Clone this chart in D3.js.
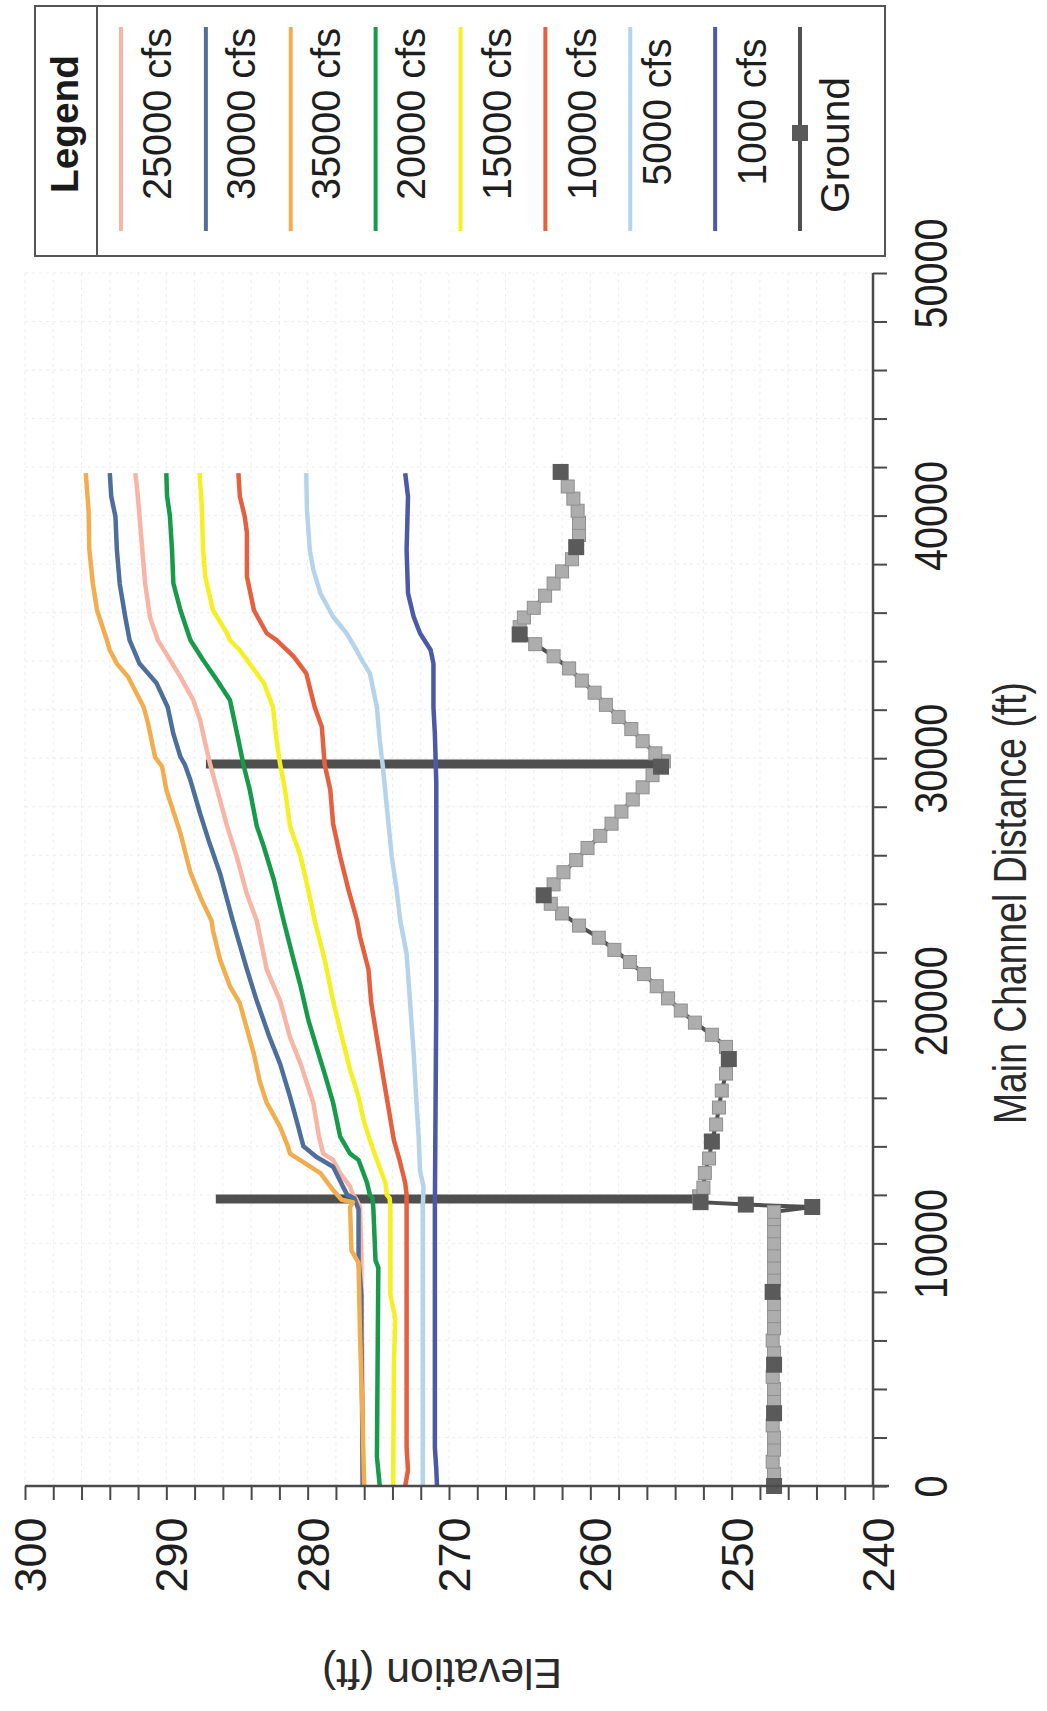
<!DOCTYPE html>
<html>
<head>
<meta charset="utf-8">
<script src="https://cdn.jsdelivr.net/npm/d3@7"></script>
<style>
  html, body { margin: 0; padding: 0; background: #ffffff; }
  svg { display: block; }
</style>
</head>
<body>
<svg id="chart" width="1047" height="1711"></svg>
<script>
// Water surface profiles: [main channel distance (ft), elevation (ft)]
const wse25000 = [[0,276.15],[3000,276.1],[8500,276.2],[9600,276.2],[11500,276.3],[11860,276.6],[12000,276.8],[12340,277.0],[12900,277.7],[13440,278.2],[13700,278.9],[14400,279.2],[15800,279.6],[17400,280.5],[18500,281.25],[20000,281.95],[21300,282.9],[23300,283.6],[24400,284.3],[25900,285.0],[27200,285.7],[28700,286.4],[29750,286.9],[30750,287.3],[31550,287.6],[32400,288.1],[33350,289.0],[34300,290.0],[34870,290.6],[35800,291.15],[37200,291.5],[38600,291.7],[40000,291.9],[41300,292.1],[41750,292.2]];
const wse30000 = [[0,276.1],[6300,276.2],[7900,276.2],[9300,276.4],[11400,276.4],[11860,276.7],[12000,277.2],[12340,277.5],[13160,278.2],[13570,279.4],[14000,280.3],[15100,280.8],[16050,281.25],[17400,281.95],[18500,282.7],[20000,283.6],[21300,284.3],[22500,284.9],[23300,285.3],[25250,286.2],[26600,287.0],[27700,287.6],[29100,288.3],[29750,288.7],[30050,289.0],[31000,289.5],[32100,289.9],[33100,290.7],[33900,291.9],[34450,292.3],[34870,292.6],[35800,292.9],[37200,293.3],[38600,293.5],[39950,293.6],[40800,293.9],[41750,294.0]];
const wse35000 = [[0,276.0],[3500,276.15],[6300,276.3],[9200,276.4],[9700,276.9],[11500,277.0],[11700,276.8],[11800,277.6],[12200,278.2],[12900,279.1],[13700,281.25],[14000,281.4],[14800,281.95],[15800,282.9],[16700,283.4],[17800,283.8],[19900,284.8],[20600,285.5],[21700,286.2],[22900,286.7],[23300,286.8],[24150,287.5],[25300,288.3],[26900,289.0],[28700,290.0],[29650,290.3],[30050,290.8],[31450,291.3],[32100,291.6],[33350,292.7],[33900,293.5],[34450,294.0],[34850,294.2],[36100,294.9],[37200,295.2],[38600,295.45],[40200,295.5],[41750,295.7]];
const wse20000 = [[0,274.9],[1200,275.1],[9000,275.0],[9300,275.2],[11400,275.35],[11860,275.4],[12000,275.6],[12500,275.8],[13440,276.4],[13700,277.0],[14400,277.7],[15800,278.2],[17000,278.8],[17850,279.25],[19200,279.95],[20600,280.5],[21700,281.0],[23300,281.7],[25000,282.4],[26350,283.1],[27200,283.6],[28700,284.1],[29750,284.55],[30750,284.9],[31850,285.3],[32400,285.5],[33200,286.4],[34050,287.4],[34870,288.3],[35400,288.6],[36100,289.0],[37200,289.5],[38600,289.6],[40000,289.75],[40800,289.95],[41750,290.0]];
const wse15000 = [[0,273.95],[5000,273.9],[6900,273.8],[7900,274.15],[11500,274.15],[11860,274.2],[12000,274.4],[12500,274.5],[13440,275.1],[14260,275.6],[15100,276.05],[16050,276.4],[17150,277.0],[18800,277.7],[20000,278.2],[21700,278.8],[23300,279.5],[24550,279.95],[25950,280.5],[27200,281.25],[28700,281.6],[29750,281.95],[30750,282.2],[32100,282.45],[33100,283.1],[34050,284.3],[34450,284.8],[34870,285.5],[35150,285.7],[36100,286.7],[37500,287.25],[38600,287.4],[40500,287.5],[41750,287.65]];
const wse10000 = [[0,273.1],[650,272.9],[1600,273.0],[11500,273.0],[12000,273.0],[12500,273.1],[13440,273.5],[14260,273.9],[15650,274.3],[16850,274.65],[18100,275.0],[19900,275.5],[21300,275.7],[22650,276.3],[23300,276.5],[24550,277.1],[25950,277.7],[27300,278.2],[28700,278.4],[29750,278.8],[31300,279.0],[32100,279.5],[33500,280.1],[34200,281.0],[34870,282.2],[35150,282.9],[36100,283.8],[37500,284.3],[39300,284.3],[39950,284.45],[40800,284.8],[41750,284.9]];
const wse5000 = [[0,271.85],[11500,271.85],[12340,271.8],[13000,272.05],[14400,272.15],[15800,272.3],[17850,272.5],[19900,272.75],[21950,273.0],[23300,273.45],[24550,273.7],[25950,274.05],[28000,274.4],[29750,274.7],[30750,274.9],[32100,275.1],[33500,275.6],[34180,276.3],[34460,276.55],[35150,277.25],[35830,278.2],[36800,279.1],[37760,279.6],[38580,279.85],[40230,280.05],[41750,280.1]];
const wse1000 = [[0,270.85],[700,270.9],[1600,271.0],[11500,271.0],[20000,270.9],[29000,270.9],[31000,271.0],[32100,271.1],[33900,271.1],[34460,271.3],[35150,272.05],[35830,272.5],[36800,272.9],[38580,273.0],[40780,272.9],[41750,273.1]];

// Channel ground profile: [main channel distance (ft), elevation (ft)]
const ground = [[0,247.0],[500,247.0],[1000,247.1],[1500,247.0],[2000,247.0],[2500,247.1],[3000,247.0],[3500,247.0],[4000,247.0],[4500,247.1],[5000,247.0],[5500,247.0],[6000,247.1],[6500,247.0],[7000,247.0],[7500,247.0],[8000,247.1],[8500,247.0],[9000,247.0],[9500,247.0],[10000,247.0],[10500,247.0],[11000,247.0],[11300,247.0],[11500,244.3],[11600,249.0],[11700,252.2],[11940,252.3],[12300,252.0],[12900,251.9],[13500,251.6],[14200,251.4],[14900,251.1],[15600,250.9],[16300,250.7],[17000,250.4],[17600,250.2],[18100,250.4],[18600,251.4],[19100,252.6],[19600,253.6],[20100,254.5],[20600,255.3],[21100,256.2],[21600,257.2],[22100,258.3],[22600,259.4],[23100,260.8],[23600,262.0],[24000,262.8],[24350,263.3],[24800,262.6],[25300,261.9],[25800,261.0],[26300,260.2],[26800,259.3],[27300,258.5],[27800,257.8],[28300,257.0],[28800,256.3],[29300,255.6],[29650,255.0],[29870,254.8],[30200,255.4],[30700,256.3],[31200,257.1],[31700,258.0],[32200,258.9],[32700,259.7],[33200,260.6],[33700,261.5],[34200,262.6],[34700,263.9],[35100,265.0],[35400,265.0],[35800,264.7],[36200,264.0],[36700,263.2],[37200,262.6],[37700,262.0],[38200,261.3],[38700,261.0],[39200,260.8],[39700,260.8],[40200,260.9],[40700,261.2],[41200,261.6],[41800,262.1]];
// Bridge / weir crossings: [distance, invert elevation, deck elevation]
const crossings = [[11830, 252.2, 286.5], [29760, 254.9, 287.2]];
// Surveyed cross sections drawn with a heavier marker
const sectionDist = [0, 2800, 5200, 8000, 11500, 11600, 11700, 14200, 17600, 24350, 29650, 35100, 38700, 41800];

const elevTicks = [300, 290, 280, 270, 260, 250, 240];
const distTicks = [0, 10000, 20000, 30000, 40000, 50000];

const legendLabels = ["25000 cfs","30000 cfs","35000 cfs","20000 cfs","15000 cfs","10000 cfs","5000 cfs","1000 cfs"];
const legendColors = ["#f6b5a5","#4e6f9c","#f2ae4e","#179b4b","#f4f024","#e5603f","#b5d4ec","#4b5aa6"];
const profiles = [wse25000, wse30000, wse35000, wse20000, wse15000, wse10000, wse5000, wse1000];

const svg = d3.select("#chart");
const FONT = "'Liberation Sans', Arial, Helvetica, sans-serif";
const NARROW = "'Liberation Sans Narrow', 'Arial Narrow', 'Liberation Sans', Arial, sans-serif";

// Elevation runs across the page, distance runs up the page
const xE = d3.scaleLinear().domain([300, 240]).range([25, 873]);
const yD = d3.scaleLinear().domain([0, 50000]).range([1486, 273]);

// faint grid
const grid = svg.append("g").attr("stroke", "#dcdcdc").attr("stroke-width", 1)
  .attr("stroke-dasharray", "3,4").attr("opacity", 0.5);
grid.selectAll("line.v").data(d3.range(242, 301, 2)).join("line")
  .attr("x1", d => xE(d)).attr("x2", d => xE(d)).attr("y1", yD(50000)).attr("y2", yD(0));
grid.selectAll("line.h").data(d3.range(2000, 50001, 2000)).join("line")
  .attr("x1", xE(300)).attr("x2", xE(240)).attr("y1", d => yD(d)).attr("y2", d => yD(d));

const line = d3.line().x(p => xE(p[1])).y(p => yD(p[0]));

// ground profile
svg.append("path").datum(ground).attr("d", line)
  .attr("fill", "none").attr("stroke", "#505050").attr("stroke-width", 4)
  .attr("stroke-linejoin", "miter");
// bridge decks rising from the channel
svg.append("g").selectAll("line").data(crossings).join("line")
  .attr("x1", c => xE(c[1])).attr("x2", c => xE(c[2]))
  .attr("y1", c => yD(c[0])).attr("y2", c => yD(c[0]))
  .attr("stroke", "#4f4f4f").attr("stroke-width", 9);
svg.append("g").selectAll("rect").data(ground).join("rect")
  .attr("x", p => xE(p[1]) - 6.5).attr("y", p => yD(p[0]) - 6.5)
  .attr("width", 13).attr("height", 13)
  .attr("fill", "#adadad").attr("stroke", "#8f8f8f").attr("stroke-width", 1);
const sectionPts = sectionDist.map(d => ground.reduce((a, b) => Math.abs(b[0] - d) < Math.abs(a[0] - d) ? b : a));
svg.append("g").selectAll("rect").data(sectionPts).join("rect")
  .attr("x", p => xE(p[1]) - 8).attr("y", p => yD(p[0]) - 8)
  .attr("width", 16).attr("height", 16).attr("fill", "#5a5a5a");

// water surface profiles
svg.append("g").selectAll("path").data(profiles).join("path")
  .attr("d", line).attr("fill", "none")
  .attr("stroke", (d, i) => legendColors[i])
  .attr("stroke-width", 4.5).attr("stroke-linejoin", "round");

// elevation axis (bottom of page)
const axE = svg.append("g").attr("transform", `translate(0,${yD(0)})`)
  .call(d3.axisBottom(xE).tickValues(d3.range(240, 301, 2)).tickSize(14).tickSizeOuter(0)
    .tickFormat(d => elevTicks.includes(d) ? d : ""));
axE.select(".domain").attr("stroke", "#4a4a4a").attr("stroke-width", 2.5)
  .attr("d", `M${xE(300)},0H${xE(240) + 16}`);
axE.selectAll(".tick line").attr("stroke", "#4a4a4a").attr("stroke-width", 2);
axE.selectAll(".tick text")
  .attr("x", 0).attr("y", 0).attr("dy", null)
  .attr("transform", "translate(5,69) rotate(-90)")
  .attr("text-anchor", "middle").attr("dominant-baseline", "central")
  .attr("font-family", FONT).attr("font-size", 45).attr("fill", "#1e1e1e");

// distance axis (right of page)
const axD = svg.append("g").attr("transform", `translate(${xE(240)},0)`)
  .call(d3.axisRight(yD).tickValues(d3.range(0, 50001, 2000)).tickSize(14).tickSizeOuter(0)
    .tickFormat(d => distTicks.includes(d) ? d : ""));
axD.select(".domain").attr("stroke", "#4a4a4a").attr("stroke-width", 2.5)
  .attr("d", `M0,${yD(0)}V${yD(50000)}`);
axD.selectAll(".tick line").attr("stroke", "#4a4a4a").attr("stroke-width", 2);
axD.selectAll(".tick text")
  .attr("x", 0).attr("y", 0).attr("dy", null)
  .attr("transform", "translate(58,0) rotate(-90)")
  .attr("text-anchor", "middle").attr("dominant-baseline", "central")
  .attr("font-family", NARROW).attr("font-size", 46).attr("fill", "#1e1e1e")
  .attr("textLength", d => String(d).length * 22).attr("lengthAdjust", "spacingAndGlyphs");

// axis titles
svg.append("text").attr("transform", "translate(1010,903) rotate(-90)")
  .attr("text-anchor", "middle").attr("dominant-baseline", "central")
  .attr("font-family", NARROW).attr("font-size", 46).attr("fill", "#2a2a2a")
  .attr("textLength", 442).attr("lengthAdjust", "spacingAndGlyphs")
  .text("Main Channel Distance (ft)");
svg.append("text").attr("transform", "translate(442,1673) rotate(180)")
  .attr("text-anchor", "middle").attr("dominant-baseline", "central")
  .attr("font-family", FONT).attr("font-size", 42).attr("fill", "#2a2a2a")
  .attr("textLength", 240).attr("lengthAdjust", "spacingAndGlyphs")
  .text("Elevation (ft)");

// legend
const lg = svg.append("g");
lg.append("rect").attr("x", 35).attr("y", 6).attr("width", 850).attr("height", 250)
  .attr("fill", "#fff").attr("stroke", "#555").attr("stroke-width", 2);
lg.append("line").attr("x1", 97).attr("x2", 97).attr("y1", 6).attr("y2", 256)
  .attr("stroke", "#555").attr("stroke-width", 2);
lg.append("text").attr("transform", "translate(64,124) rotate(-90)")
  .attr("text-anchor", "middle").attr("dominant-baseline", "central")
  .attr("font-family", FONT).attr("font-weight", "bold").attr("font-size", 39).attr("fill", "#1a1a1a")
  .attr("textLength", 138).attr("lengthAdjust", "spacingAndGlyphs")
  .text("Legend");

const entryX = d3.scaleLinear().domain([0, 8]).range([121, 800]);
const textX = [157, 241, 326, 411, 497, 582, 657, 752, 835];
const textY = [114, 114, 114, 114, 114, 114, 112, 112, 145];
const allLabels = legendLabels.concat(["Ground"]);
const allColors = legendColors.concat(["#505050"]);
lg.selectAll("line.s").data(allColors).join("line")
  .attr("x1", (d, i) => entryX(i)).attr("x2", (d, i) => entryX(i))
  .attr("y1", 27).attr("y2", 231)
  .attr("stroke", d => d).attr("stroke-width", 4);
lg.append("rect").attr("x", entryX(8) - 8).attr("y", 125).attr("width", 16).attr("height", 16)
  .attr("fill", "#5a5a5a");
lg.selectAll("text.l").data(allLabels).join("text")
  .attr("transform", (d, i) => `translate(${textX[i]},${textY[i]}) rotate(-90)`)
  .attr("text-anchor", "middle").attr("dominant-baseline", "central")
  .attr("font-family", FONT).attr("font-size", 40).attr("fill", "#1e1e1e")
  .attr("textLength", d => d === "Ground" ? 136 : (d.length === 9 ? 172 : 147))
  .attr("lengthAdjust", "spacingAndGlyphs")
  .text(d => d);
</script>
</body>
</html>
